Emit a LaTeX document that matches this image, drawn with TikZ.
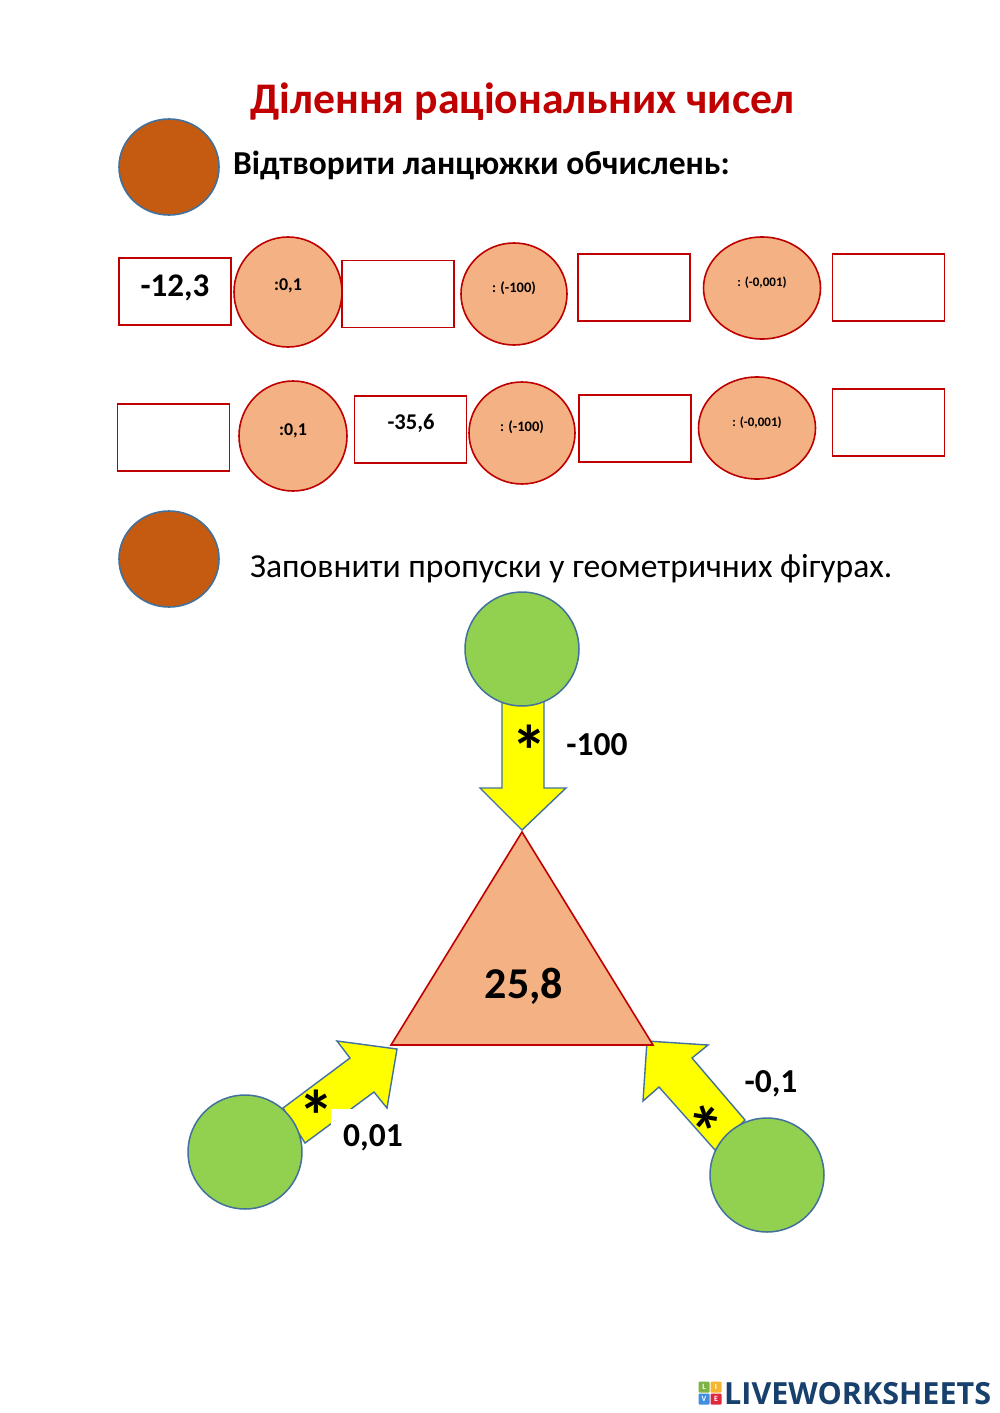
\documentclass[tikz,border=0pt]{standalone}
\usepackage{fontspec}
\usetikzlibrary{shapes.geometric}
\setmainfont{Carlito}
\newfontfamily\logofont{Open Sans}
\definecolor{titlered}{HTML}{C00000}
\definecolor{salmon}{HTML}{F4B183}
\definecolor{brownfill}{HTML}{C55A11}
\definecolor{greenfill}{HTML}{92D050}
\definecolor{bluegrey}{HTML}{41719C}
\definecolor{logoblue}{HTML}{17406D}
\definecolor{arrowyellow}{HTML}{FFFF00}
\definecolor{tilegreen}{HTML}{7DB544}
\definecolor{tileyellow}{HTML}{F5B52E}
\definecolor{tileblue}{HTML}{3F8FE0}
\definecolor{tilered}{HTML}{E0283C}
\begin{document}
\begin{tikzpicture}[x=1pt,y=-1pt]
	\tikzstyle{txt}=[inner sep=0pt,anchor=base west]
	\tikzstyle{mid}=[inner sep=0pt,anchor=base,font=\bfseries]
	\tikzstyle{answer box}=[draw=titlered,line width=1.6pt,fill=white,minimum width=112pt,minimum height=67pt,inner sep=0pt]
	\tikzstyle{oval}=[ellipse,draw=titlered,line width=1.6pt,fill=salmon,inner sep=0pt]
	\tikzstyle{bullet}=[ellipse,draw=bluegrey,line width=1.6pt,fill=brownfill,minimum width=100pt,minimum height=96pt,inner sep=0pt]
	\tikzstyle{green vertex}=[circle,draw=bluegrey,line width=1.5pt,fill=greenfill,minimum size=114pt,inner sep=0pt]
	\tikzstyle{block arrow}=[draw=bluegrey,line width=1.4pt,fill=arrowyellow,line join=miter]
	\tikzstyle{asterisk}=[inner sep=0pt,font=\fontsize{72}{72}\selectfont\bfseries]
	\tikzstyle{tile}=[minimum size=11pt,inner sep=0pt,rounded corners=1pt,text=white,font=\fontsize{8}{8}\selectfont\bfseries]

	\useasboundingbox[fill=white] (0,0) rectangle (1000,1413);

	\node[txt,text=titlered,font=\fontsize{43.7}{44}\selectfont\bfseries] (title) at (250,113) {Ділення раціональних чисел};
	\node[bullet] (b1) at (169,167) {};
	\node[txt,font=\fontsize{33.5}{34}\selectfont\bfseries] (task1) at (233,174) {Відтворити ланцюжки обчислень:};
	\node[bullet] (b2) at (169,559) {};
	\node[txt,font=\fontsize{33.6}{34}\selectfont] (task2) at (250,577) {Заповнити пропуски у геометричних фігурах.};

	% first chain
	\node[answer box] (r1) at (175,291.5) {};
	\node[oval,minimum width=108pt,minimum height=110pt] (c1) at (288,292) {};
	\node[answer box] (r2) at (398,294) {};
	\node[oval,minimum width=106pt,minimum height=102pt] (c2) at (514,294) {};
	\node[answer box] (r3) at (634,287.5) {};
	\node[oval,minimum width=117pt,minimum height=102pt] (c3) at (762,288) {};
	\node[answer box] (r4) at (888.5,287.5) {};
	\node[mid,font=\fontsize{33}{33}\selectfont\bfseries] (v1) at (175,296) {-12,3};
	\node[mid,font=\fontsize{18}{18}\selectfont\bfseries] (l1) at (288,290) {:0,1};
	\node[mid,font=\fontsize{14.5}{14.5}\selectfont\bfseries] (l2) at (514,292) {: (-100)};
	\node[mid,font=\fontsize{13}{13}\selectfont\bfseries] (l3) at (762,286) {: (-0,001)};

	% second chain
	\node[answer box] (r5) at (173.5,437.5) {};
	\node[oval,minimum width=108pt,minimum height=110pt] (c4) at (293,436) {};
	\node[answer box] (r6) at (410.5,429.5) {};
	\node[oval,minimum width=106pt,minimum height=102pt] (c5) at (522,433) {};
	\node[answer box] (r7) at (635,428.5) {};
	\node[oval,minimum width=117pt,minimum height=102pt] (c6) at (757,428) {};
	\node[answer box] (r8) at (888.5,422.5) {};
	\node[mid,font=\fontsize{18}{18}\selectfont\bfseries] (l4) at (293,435) {:0,1};
	\node[mid,font=\fontsize{22.5}{22.5}\selectfont\bfseries] (v2) at (411,429) {-35,6};
	\node[mid,font=\fontsize{14.5}{14.5}\selectfont\bfseries] (l5) at (522,431) {: (-100)};
	\node[mid,font=\fontsize{13}{13}\selectfont\bfseries] (l6) at (757,426) {: (-0,001)};

	% arrows
	\path[block arrow] (502,695) -- (502,788) -- (480,788) -- (522,830) -- (566,788) -- (544,788) -- (544,695) -- cycle;
	\path[block arrow] (283,1108) -- (350,1058) -- (337,1041) -- (397,1049) -- (387,1108) -- (374,1092) -- (305,1143) -- cycle;
	\path[block arrow] (715,1150) -- (659,1087) -- (643,1101) -- (647,1041) -- (708,1045) -- (692,1058) -- (745,1120) -- cycle;
	\fill[white] (331,1109) rectangle (352,1132);

	\coordinate (t0) at (522,832);
	\coordinate (t1) at (391,1045);
	\coordinate (t2) at (653,1045);
	\path[draw=titlered,line width=1.6pt,fill=salmon] (t0) -- (t1) -- (t2) -- cycle;

	\node[green vertex] (g1) at (522,649) {};
	\node[green vertex] (g2) at (245,1152) {};
	\node[green vertex] (g3) at (767,1175) {};

	\node[asterisk] (s1) at (529,751) {*};
	\node[asterisk] (s2) at (316,1116) {*};
	\node[asterisk,rotate=-40] (s3) at (697,1128) {*};
	\node[mid,font=\fontsize{33.5}{33.5}\selectfont\bfseries] (n1) at (597,755) {-100};
	\node[mid,font=\fontsize{33.5}{33.5}\selectfont\bfseries] (n2) at (373,1146) {0,01};
	\node[mid,font=\fontsize{33.5}{33.5}\selectfont\bfseries] (n3) at (771,1092) {-0,1};
	\node[mid,font=\fontsize{44}{44}\selectfont\bfseries] (n4) at (524,998) {25,8};

	% logo
	\node[tile,fill=tilegreen] (k1) at (704,1387) {L};
	\node[tile,fill=tileyellow] (k2) at (716,1387) {I};
	\node[tile,fill=tileblue] (k3) at (704,1399) {V};
	\node[tile,fill=tilered] (k4) at (716,1399) {E};
	\node[txt,text=logoblue,font=\fontsize{30.5}{31}\logofont\bfseries] (logo) at (724,1404) {LIVEWORKSHEETS};
\end{tikzpicture}
\end{document}
